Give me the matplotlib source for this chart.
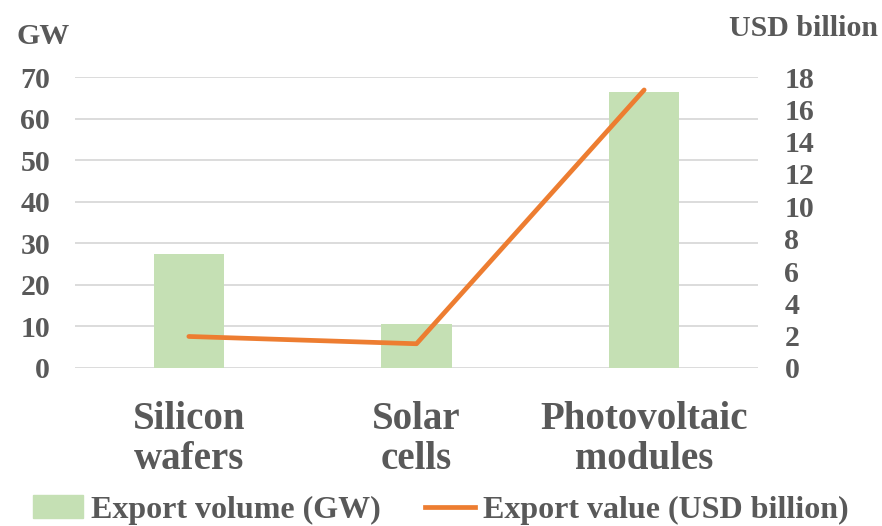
import numpy as np
import matplotlib.pyplot as plt
from matplotlib.lines import Line2D
from matplotlib.patches import Patch

categories = ['Silicon\nwafers', 'Solar\ncells', 'Photovoltaic\nmodules']
volume_gw = [27.4, 10.5, 66.4]
value_usd = [1.95, 1.5, 17.2]

plt.rcParams['font.family'] = 'Liberation Serif'
plt.rcParams['font.weight'] = 'bold'
txt = '#595959'

fig = plt.figure(figsize=(8.82, 5.26), dpi=100)
ax = fig.add_axes([75/882, 1-368/526, 683/882, 291/526])
x = np.arange(len(categories))
ax.bar(x, volume_gw, width=0.31, color='#C5E0B4', zorder=2)
ax.set_ylim(0, 70)
ax.set_yticks(range(0, 71, 10))
ax.set_xlim(-0.5, 2.5)
ax.grid(axis='y', color='#D9D9D9', lw=1.3, zorder=0)
for s in ax.spines.values():
    s.set_visible(False)
ax.tick_params(length=0, colors=txt)
ax.tick_params(axis='y', pad=18)
ax.set_yticklabels([str(v) for v in range(0, 71, 10)], fontsize=21.5, fontweight='bold')
ax.set_xticks(x)
ax.set_xticklabels(categories, fontsize=28, fontweight='bold', linespacing=1.1)
ax.tick_params(axis='x', pad=24)

ax2 = ax.twinx()
ax2.plot(x, value_usd, color='#ED7D31', lw=3.4, solid_capstyle='round', zorder=3)
ax2.set_ylim(0, 18)
ax2.set_yticks(range(0, 19, 2))
ax2.set_yticklabels([str(v) for v in range(0, 19, 2)], fontsize=21.5, fontweight='bold')
for s in ax2.spines.values():
    s.set_visible(False)
ax2.tick_params(length=0, colors=txt, pad=19)

fig.text(16/882, 1-37/526, 'GW', color=txt, fontsize=21.5, fontweight='bold', va='center', ha='left')
fig.text(878/882, 1-28/526, 'USD billion', color=txt, fontsize=21.5, fontweight='bold', va='center', ha='right')

handles = [Patch(color='#C5E0B4'), Line2D([0], [0], color='#ED7D31', lw=3.4)]
fig.legend(handles, ['Export volume (GW)', 'Export value (USD billion)'],
           loc='center', bbox_to_anchor=(0.5, 1-510/526), ncol=2, frameon=False,
           prop={'size': 23, 'weight': 'bold'}, labelcolor=txt,
           handlelength=1.55, handletextpad=0.25, columnspacing=1.4)

fig.savefig('out.png', dpi=100)
